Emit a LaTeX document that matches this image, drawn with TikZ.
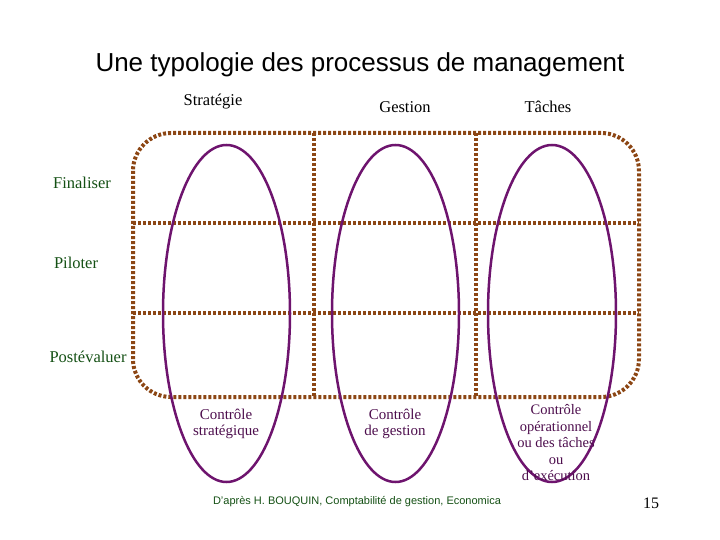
\documentclass[tikz,border=0pt]{standalone}
\usepackage{fontspec}
\setmainfont{Liberation Serif}
\setsansfont{Liberation Sans}
\usetikzlibrary{positioning}
\definecolor{brun}{RGB}{140,70,20}
\definecolor{violet}{RGB}{110,20,110}
\definecolor{vert}{RGB}{20,80,20}
\begin{document}
\begin{tikzpicture}[x=1pt,y=-1pt,
  grille/.style={brun,line width=4pt,dash pattern=on 3pt off 2pt},
  ovale/.style={violet,line width=2.5pt},
  ligne/.style={vert,font=\fontsize{16.5}{18}\selectfont},
  colonne/.style={font=\fontsize{16.5}{18}\selectfont},
  controle/.style={violet!70!black,font=\fontsize{15}{16}\selectfont,align=center}]
\useasboundingbox (0,0) rectangle (720,540);
\node[font=\sffamily\fontsize{26}{28}\selectfont] (titre) at (360,65) {Une typologie des processus de management};
\node[colonne] (strat) at (213,102) {Stratégie};
\node[colonne] (gest) at (405,107) {Gestion};
\node[colonne] (taches) at (548,107) {Tâches};
% cadre et grille
\draw[grille,rounded corners=38pt] (133,133) rectangle (639,397);
\draw[grille] (133,223) -- (639,223);
\draw[grille] (133,313) -- (639,313);
\draw[grille] (314,133) -- (314,397);
\draw[grille] (476,133) -- (476,397);
\node[ligne] (fin) at (82,183) {Finaliser};
\node[ligne] (pil) at (76,263) {Piloter};
\node[ligne] (post) at (88,357) {Postévaluer};
% ovales
\draw[ovale] (226.5,313.5) ellipse [x radius=63.5,y radius=168.5];
\draw[ovale] (395.5,313.5) ellipse [x radius=63.5,y radius=168.5];
\draw[ovale] (552,313.5) ellipse [x radius=64,y radius=168.5];
\node[controle] (cs) at (226,424) {Contrôle\\stratégique};
\node[controle] (cg) at (395,424) {Contrôle\\de gestion};
\node[controle,font=\fontsize{14.5}{16.5}\selectfont] (co) at (556,443) {Contrôle\\opérationnel\\ou des tâches\\ou\\d'exécution};
\node[vert,font=\sffamily\fontsize{11}{12}\selectfont] (source) at (357,502) {D'après H. BOUQUIN, Comptabilité de gestion, Economica};
\node[font=\fontsize{16}{17}\selectfont] (page) at (651,503) {15};
\end{tikzpicture}
\end{document}
